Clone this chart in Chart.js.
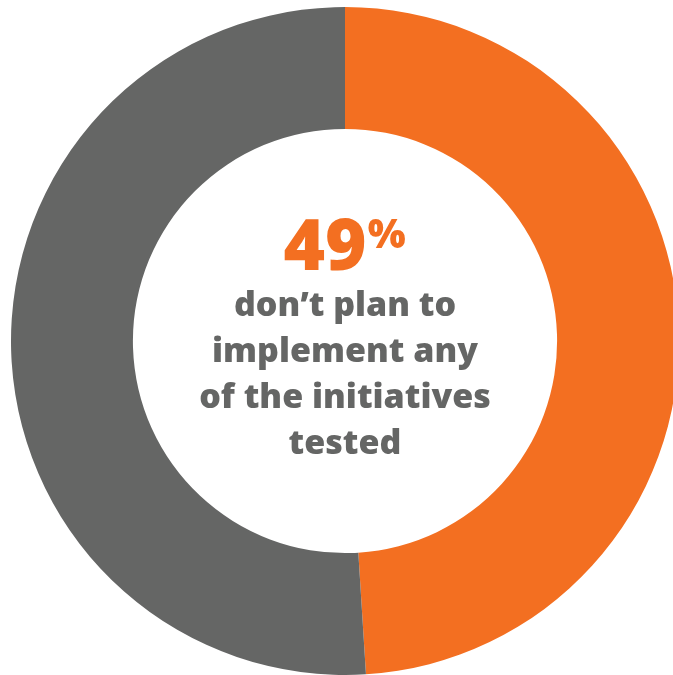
<!DOCTYPE html>
<html>
<head>
<meta charset="utf-8">
<script src="https://cdn.jsdelivr.net/npm/chart.js@4.4.0/dist/chart.umd.min.js"></script>
<style>
  html, body { margin: 0; padding: 0; background: #fff; overflow: hidden; width: 673px; height: 675px; }
  #wrap { position: absolute; left: 11px; top: 7px; width: 668px; height: 668px; }
</style>
</head>
<body>
<div id="wrap"><canvas id="donut"></canvas></div>
<script>
// slices, clockwise from 12 o'clock
const labels = ["Don't plan to implement", "Other"];
const values = [49, 51];
const colors = ["#F36F21", "#656665"];

const headline = "49";
const headlineUnit = "%";
const caption = ["don\u2019t plan to", "implement any", "of the initiatives", "tested"];

// draws the big figure and caption in the hole
const centerText = {
  id: "centerText",
  afterDraw(chart) {
    const ctx = chart.ctx;
    const meta = chart.getDatasetMeta(0).data[0];
    const cx = meta.x;
    const cy = meta.y;
    ctx.save();
    ctx.textBaseline = "alphabetic";

    const bigFont = "800 71px 'Open Sans'";
    const unitFont = "800 40px 'Open Sans'";
    ctx.font = bigFont;
    const w49 = ctx.measureText(headline).width;
    ctx.font = unitFont;
    const wPct = ctx.measureText(headlineUnit).width;
    const start = cx - (w49 + wPct + 2) / 2;
    ctx.fillStyle = colors[0];
    ctx.textAlign = "left";
    ctx.font = bigFont;
    ctx.fillText(headline, start, cy - 71);
    ctx.font = unitFont;
    ctx.fillText(headlineUnit, start + w49 + 1, cy - 93);

    ctx.fillStyle = colors[1];
    ctx.textAlign = "center";
    ctx.font = "800 34px 'Open Sans'";
    caption.forEach((line, i) => {
      ctx.fillText(line, cx, cy - 25 + i * 46);
    });
    ctx.restore();
  }
};

new Chart(document.getElementById("donut").getContext("2d"), {
  type: "doughnut",
  data: {
    labels: labels,
    datasets: [{
      data: values,
      backgroundColor: colors,
      borderWidth: 0,
    }],
  },
  options: {
    responsive: true,
    maintainAspectRatio: false,
    animation: false,
    cutout: "63.5%",
    layout: { padding: 0 },
    plugins: {
      legend: { display: false },
      tooltip: { enabled: false },
    },
  },
  plugins: [centerText],
});
</script>
</body>
</html>
